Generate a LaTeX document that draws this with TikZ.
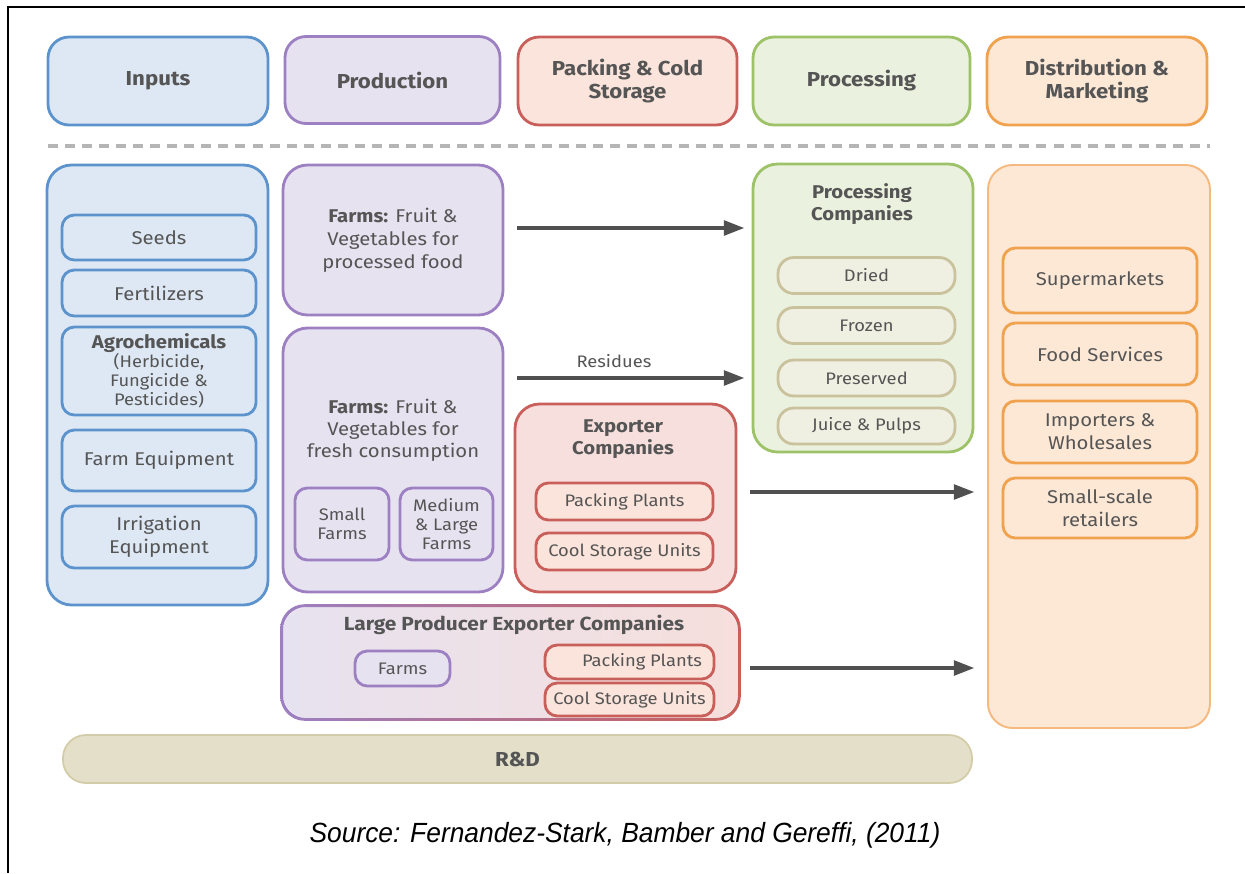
\documentclass[tikz,border=0pt]{standalone}
\usepackage{fontspec}
\setmainfont[FakeStretch=1.1]{Fira Sans}
\newfontfamily\captionfont[FakeStretch=0.95]{Liberation Sans}
\usetikzlibrary{arrows.meta}

\definecolor{txtgray}{HTML}{555555}
\definecolor{inputline}{HTML}{5D93CC}
\definecolor{inputfill}{HTML}{DDE8F4}
\definecolor{prodline}{HTML}{9C80C2}
\definecolor{prodfill}{HTML}{E7E2F0}
\definecolor{packline}{HTML}{C95F5A}
\definecolor{packfill}{HTML}{FBE4DB}
\definecolor{expfill}{HTML}{F6DFDC}
\definecolor{procline}{HTML}{9DC267}
\definecolor{procfill}{HTML}{EBF1DF}
\definecolor{procinline}{HTML}{C9C29D}
\definecolor{procinfill}{HTML}{EFEFE2}
\definecolor{distline}{HTML}{F1A24E}
\definecolor{distfill}{HTML}{FDE8D6}
\definecolor{distbody}{HTML}{F5B97F}
\definecolor{rdfill}{HTML}{E4DFC9}
\definecolor{rdline}{HTML}{D3CCA8}
\definecolor{arrowgray}{HTML}{505050}
\definecolor{dashgray}{HTML}{B5B5B5}

\tikzset{
  wh/.style 2 args={minimum width=#1*0.02cm, minimum height=#2*0.02cm},
  box/.style={draw, line width=1.6pt, align=center, text=txtgray, inner sep=1pt,
    font=\fontsize{10.5}{13}\selectfont},
  headbox/.style={box, rounded corners=12pt, font=\bfseries\fontsize{11.5}{13.5}\selectfont},
  groupbox/.style={box, rounded corners=14pt},
  itembox/.style={box, rounded corners=7pt},
  inputcol/.style={draw=inputline, fill=inputfill},
  prodcol/.style={draw=prodline, fill=prodfill},
  packcol/.style={draw=packline, fill=packfill},
  proccol/.style={draw=procline, fill=procfill},
  distcol/.style={draw=distline, fill=distfill},
  title/.style={text=txtgray, align=center, font=\bfseries\fontsize{10.5}{12.5}\selectfont},
  flow/.style={draw=arrowgray, line width=2.8pt, -{Triangle[length=12pt,width=8pt]}},
}

\begin{document}
\begin{tikzpicture}[x=0.02cm, y=-0.02cm]
\useasboundingbox (0,0) rectangle (1245,873);
\draw[line width=1.1pt] (8,873) -- (8,7) -- (1245,7);

% stage headers
\node[headbox, inputcol, wh={220}{88}] (inputs) at (158,81) {Inputs};
\node[headbox, prodcol, wh={215}{87}] (production) at (392.5,80) {Production};
\node[headbox, packcol, wh={219}{88}] (packing) at (627.5,81) {Packing \& Cold\\Storage};
\node[headbox, proccol, wh={217}{88}] (processing) at (861.5,81) {Processing};
\node[headbox, distcol, wh={220}{88}] (distribution) at (1097,81) {Distribution \&\\Marketing};

\draw[dashgray, line width=2.5pt, dash pattern=on 5.7pt off 4pt] (48,146) -- (1210,146);

% inputs
\node[groupbox, inputcol, wh={221}{440}] (inputbody) at (157.5,385) {};
\node[itembox, inputcol, wh={194}{45}] (seeds) at (159,237.5) {Seeds};
\node[itembox, inputcol, wh={194}{46}] (fert) at (159,293) {Fertilizers};
\node[itembox, inputcol, wh={194}{88}, font=\fontsize{9.5}{10.8}\selectfont] (agro) at (159,371)
  {{\bfseries\fontsize{10.5}{12}\selectfont Agrochemicals}\\(Herbicide,\\Fungicide \&\\Pesticides)};
\node[itembox, inputcol, wh={194}{61}] (farmeq) at (159,460.5) {Farm Equipment};
\node[itembox, inputcol, wh={194}{62}] (irrig) at (159,537) {Irrigation\\Equipment};

% production
\node[groupbox, prodcol, wh={220}{150}] (farmsproc) at (393,240)
  {{\bfseries Farms:} Fruit \&\\Vegetables for\\processed food};
\node[groupbox, prodcol, wh={220}{264}] (farmsfresh) at (393,460) {};
\node[text=txtgray, align=center, font=\fontsize{10.5}{12.5}\selectfont] (freshtext) at (393,430)
  {{\bfseries Farms:} Fruit \&\\Vegetables for\\fresh consumption};
\node[itembox, prodcol, wh={94}{72}, font=\fontsize{9.5}{10.8}\selectfont] (smallfarms) at (342,524) {Small\\Farms};
\node[itembox, prodcol, wh={93}{72}, font=\fontsize{9.5}{10.8}\selectfont] (largefarms) at (446.5,524) {Medium\\\& Large\\Farms};

% large producer exporter companies
\node[groupbox, draw=none, left color=prodfill, right color=expfill, wh={455}{111}] (lpec) at (510.5,662.5) {};
\shade[left color=prodline, right color=packline, even odd rule, rounded corners=14pt]
  ([shift={(-0.8pt,-0.8pt)}]lpec.south west) rectangle ([shift={(0.8pt,0.8pt)}]lpec.north east)
  [rounded corners=13pt]
  ([shift={(0.8pt,0.8pt)}]lpec.south west) rectangle ([shift={(-0.8pt,-0.8pt)}]lpec.north east);
\node[title, font=\bfseries\fontsize{10.8}{12}\selectfont] (lpectitle) at (514,625) {Large Producer Exporter Companies};
\node[itembox, prodcol, wh={95}{35}, font=\fontsize{9.5}{11}\selectfont] (lpfarms) at (402.5,668.5) {Farms};
\node[itembox, packcol, wh={169}{34}, font=\fontsize{9.5}{11}\selectfont] (lppack) at (629.5,662) {\hspace*{1.5em}Packing Plants};
\node[itembox, packcol, wh={169}{33}, font=\fontsize{9.5}{11}\selectfont] (lpcool) at (629.5,699.5) {Cool Storage Units};

% exporters
\node[groupbox, packcol, fill=expfill, wh={221}{188}] (exporter) at (625.5,498) {};
\node[title] (exptitle) at (623,439) {Exporter\\Companies};
\node[itembox, packcol, wh={177}{37}, font=\fontsize{9.5}{11}\selectfont] (exppack) at (624.5,501.5) {Packing Plants};
\node[itembox, packcol, wh={177}{37}, font=\fontsize{9.5}{11}\selectfont] (expcool) at (624.5,551.5) {Cool Storage Units};

% processing
\node[groupbox, proccol, wh={220}{288}] (proccomp) at (863,308) {};
\node[title] (proctitle) at (862,204) {Processing\\Companies};
\foreach \name/\txt/\yy in {dried/Dried/275.5, frozen/Frozen/325.5, preserved/Preserved/378, juice/Juice \& Pulps/426}{
  \node[itembox, rounded corners=9pt, draw=procinline, fill=procinfill, wh={177}{36},
    font=\fontsize{9.5}{11}\selectfont] (\name) at (866.5,\yy) {\txt};
}

% distribution
\node[groupbox, draw=distbody, fill=distfill, line width=1.1pt, wh={222}{563}] (distbodybox) at (1099,446.5) {};
\node[itembox, distcol, wh={194}{65}] (super) at (1100,280.5) {Supermarkets};
\node[itembox, distcol, wh={194}{62}] (foodserv) at (1100,354) {Food Services};
\node[itembox, distcol, wh={194}{62}] (importers) at (1100,432) {Importers \&\\Wholesales};
\node[itembox, distcol, wh={194}{60}] (retailers) at (1100,508) {Small-scale\\retailers};

% R&D
\node[box, draw=rdline, fill=rdfill, line width=1pt, rounded corners=13pt, wh={909}{48},
  font=\bfseries\fontsize{11.5}{13}\selectfont] (rd) at (517.5,759) {R\&D};

% flows
\coordinate (f1a) at (517,228);  \coordinate (f1b) at (745,228);
\coordinate (f2a) at (517,378);  \coordinate (f2b) at (745,378);
\coordinate (f3a) at (750,492);  \coordinate (f3b) at (975,492);
\coordinate (f4a) at (750,668);  \coordinate (f4b) at (975,668);
\draw[flow] (f1a) -- (f1b);
\draw[flow] (f2a) -- (f2b);
\draw[flow] (f3a) -- (f3b);
\draw[flow] (f4a) -- (f4b);
\node[text=txtgray, font=\fontsize{9.5}{11}\selectfont] (residues) at (614,361) {Residues};

\node[font=\captionfont\itshape\fontsize{15.8}{18}\selectfont] (source) at (625,835)
  {Source: Fernandez-Stark, Bamber and Gereffi, (2011)};
\end{tikzpicture}
\end{document}
